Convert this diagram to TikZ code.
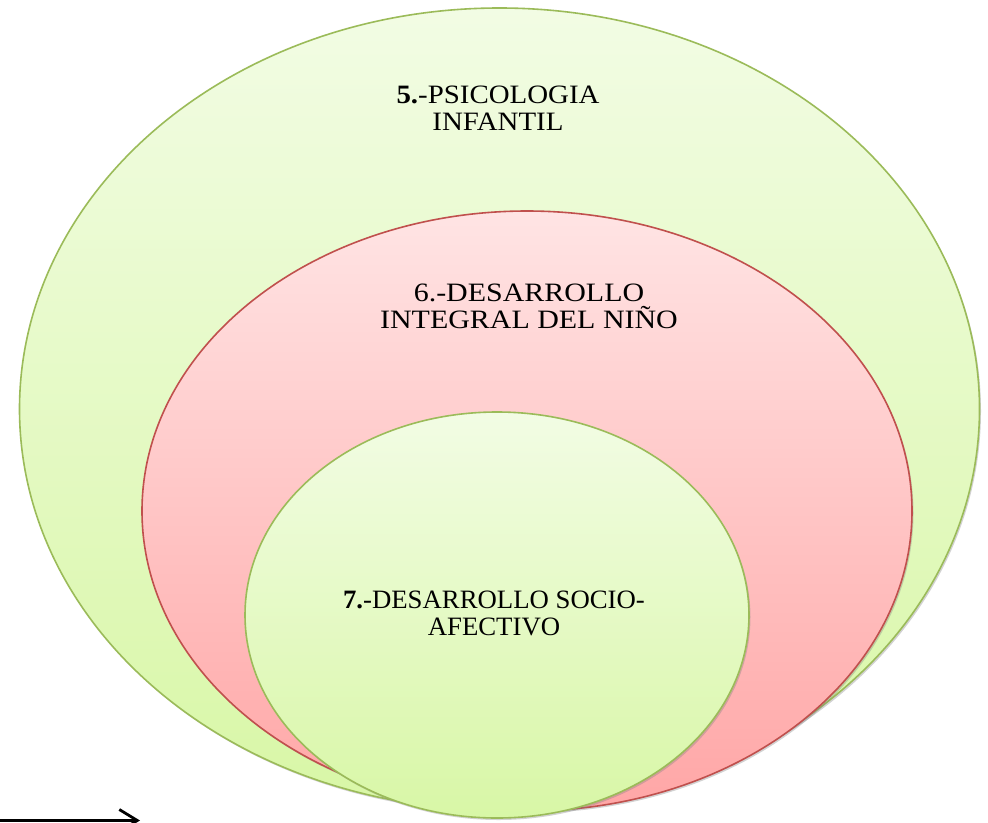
\documentclass[tikz,border=0pt]{standalone}
\usepackage{fontspec}
\setmainfont{Liberation Serif}
\usetikzlibrary{arrows.meta,shadows}
\definecolor{gborder}{RGB}{155,187,89}
\definecolor{gtop}{RGB}{242,252,228}
\definecolor{gbot}{RGB}{216,247,166}
\definecolor{rborder}{RGB}{192,80,77}
\definecolor{rtop}{RGB}{255,228,228}
\definecolor{rbot}{RGB}{255,166,166}
\tikzset{
  greenell/.style={draw=gborder, line width=1.6pt, top color=gtop, bottom color=gbot,
    drop shadow={shadow xshift=1.5pt, shadow yshift=-2pt, opacity=0.35}},
  redell/.style={draw=rborder, line width=1.6pt, top color=rtop, bottom color=rbot,
    drop shadow={shadow xshift=1.5pt, shadow yshift=-2pt, opacity=0.35}},
  lbl/.style={align=center, inner sep=0pt, anchor=base,
    font=\fontsize{26.5}{27}\selectfont},
}
\begin{document}
\begin{tikzpicture}[x=1pt,y=-1pt]
\useasboundingbox (0,0) rectangle (988,822);
\fill[white] (0,0) rectangle (988,822);
\path[greenell] (499.5,409) ellipse [x radius=480pt, y radius=401pt];
\path[redell] (527,511) ellipse [x radius=385pt, y radius=300pt];
\path[greenell] (497,615) ellipse [x radius=252pt, y radius=203pt];
\node[lbl, xscale=1.09, transform shape] (t5) at (498,130) {\textbf{5.}-PSICOLOGIA\\INFANTIL};
\node[lbl, xscale=1.13, transform shape] (t6) at (529,328) {6.-DESARROLLO\\INTEGRAL DEL NIÑO};
\node[lbl, xscale=1.01, transform shape] (t7) at (494,635) {\textbf{7.}-DESARROLLO SOCIO-\\AFECTIVO};
\coordinate (a0) at (0,820.5);
\coordinate (a1) at (140,820.5);
\draw[line width=2.8pt, -{Straight Barb[length=18pt,width=22pt,line width=2.8pt]}] (a0) -- (a1);
\end{tikzpicture}
\end{document}
